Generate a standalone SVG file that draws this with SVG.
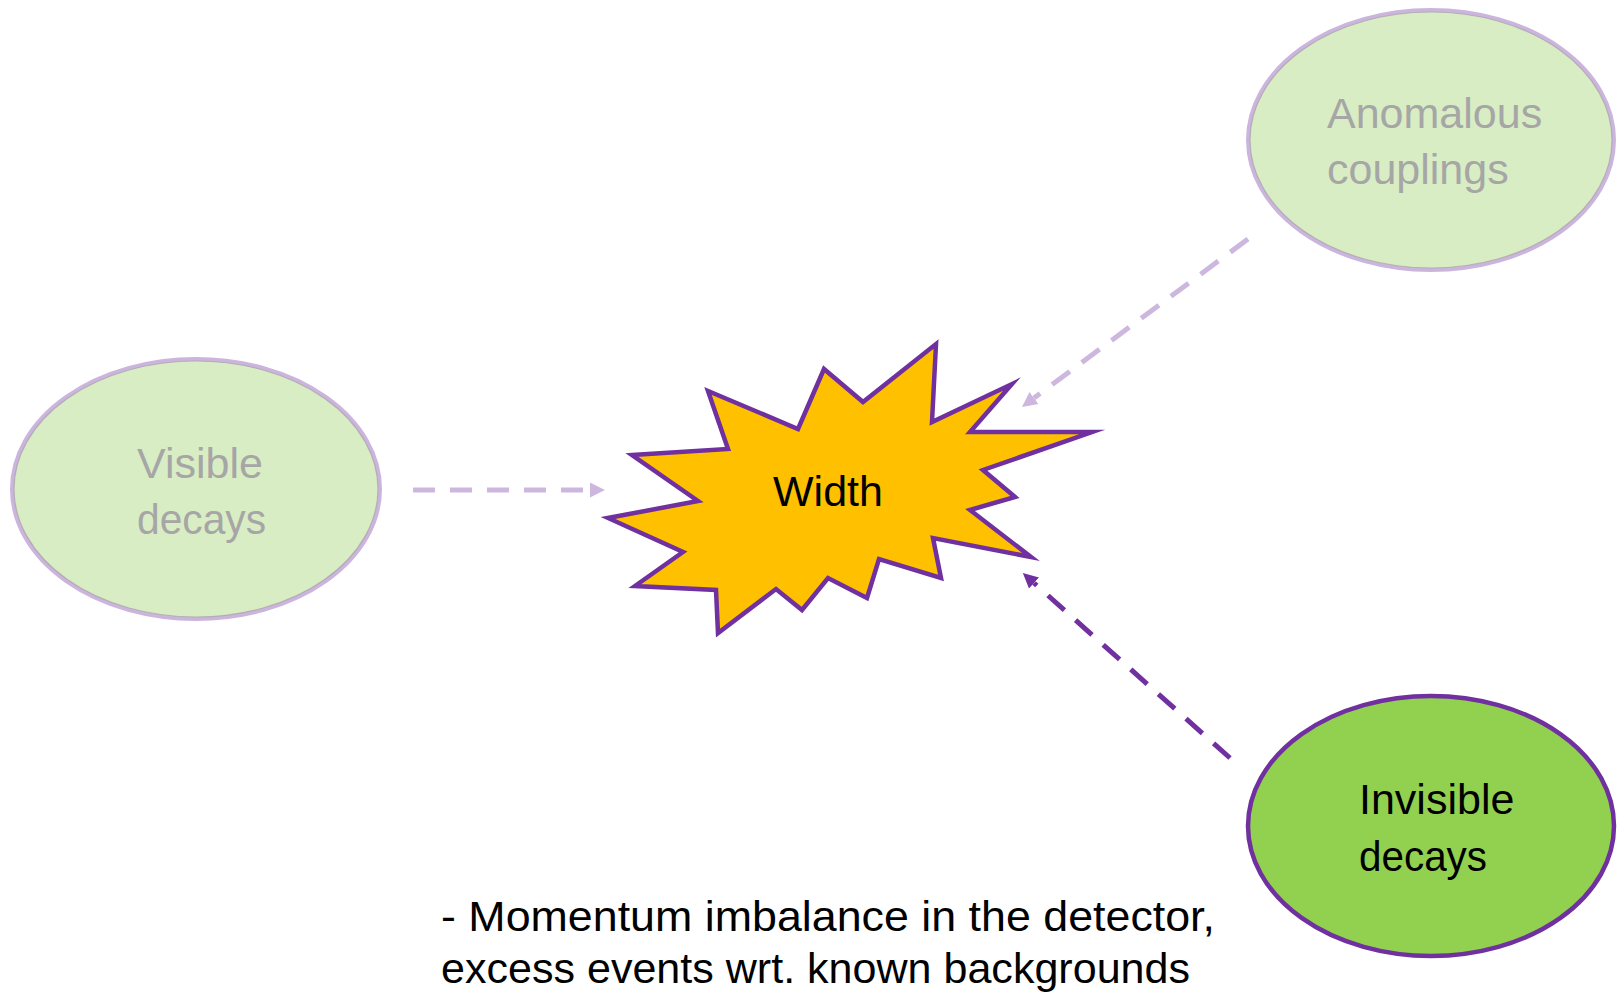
<svg xmlns="http://www.w3.org/2000/svg" width="1617" height="997" viewBox="0 0 1617 997">
  <style>
    .label { font-family: "Liberation Sans", Arial, sans-serif; font-size: 43px; }
    .faded-text { fill: #A6A6A6; }
    .dark-text { fill: #000000; }
    .faded-node { fill: #D8EDC3; stroke: #CBB5DD; stroke-width: 4; }
    .faded-rim { fill: none; stroke: #A8A0AC; stroke-width: 1.2; opacity: 0.7; }
    .active-node { fill: #92D050; stroke: #7030A0; stroke-width: 4.5; }
    .link { fill: none; stroke-width: 5; stroke-dasharray: 22 15; }
    .link-faded { stroke: #CDB7DF; }
    .link-active { stroke: #7030A0; }
  </style>
  <defs>
    <marker id="head-faded" markerUnits="userSpaceOnUse" markerWidth="16" markerHeight="16" refX="0" refY="8" orient="auto">
      <path d="M0,0.5 L15,8 L0,15.5 z" fill="#CDB7DF"/>
    </marker>
    <marker id="head-active" markerUnits="userSpaceOnUse" markerWidth="16" markerHeight="16" refX="0" refY="8" orient="auto">
      <path d="M0,0.5 L15,8 L0,15.5 z" fill="#7030A0"/>
    </marker>
  </defs>

  <rect width="1617" height="997" fill="#FFFFFF"/>

  <!-- connectors -->
  <g id="connectors">
    <line class="link link-faded" x1="413" y1="490" x2="590" y2="490" marker-end="url(#head-faded)"/>
    <line class="link link-faded" x1="1248" y1="239" x2="1034" y2="398" marker-end="url(#head-faded)"/>
    <line class="link link-active" x1="1230" y1="758" x2="1034" y2="583" marker-end="url(#head-active)"/>
  </g>

  <!-- central burst -->
  <g id="width">
    <polygon points="632,455 728,449 708,391 798,429 824,369 863,402 936,344 932,422 1012,384 970,432 1092,432 983,470 1015,497 970,510 1031,557 933,538 941,578 879,559 867,598 828,578 802,610 776,589 718,633 716,590 635,586 683,552 608,518 698,501" fill="#FFC000" stroke="#7030A0" stroke-width="4.5" stroke-linejoin="miter" stroke-miterlimit="20"/>
    <text class="label dark-text" x="828" y="506" text-anchor="middle" font-size="44">Width</text>
  </g>

  <!-- visible decays -->
  <g id="visible-decays">
    <ellipse class="faded-node" cx="196" cy="489" rx="184" ry="130"/>
    <ellipse class="faded-rim" cx="196" cy="489" rx="182" ry="128"/>
    <text class="label faded-text" x="137" y="478">Visible</text>
    <text class="label faded-text" x="137" y="534" textLength="129" lengthAdjust="spacingAndGlyphs">decays</text>
  </g>

  <!-- anomalous couplings -->
  <g id="anomalous-couplings">
    <ellipse class="faded-node" cx="1431" cy="140" rx="183" ry="130"/>
    <ellipse class="faded-rim" cx="1431" cy="140" rx="181" ry="128"/>
    <text class="label faded-text" x="1327" y="128">Anomalous</text>
    <text class="label faded-text" x="1327" y="184">couplings</text>
  </g>

  <!-- invisible decays -->
  <g id="invisible-decays">
    <ellipse class="active-node" cx="1431" cy="826" rx="183" ry="130"/>
    <text class="label dark-text" x="1359" y="814">Invisible</text>
    <text class="label dark-text" x="1359" y="871" textLength="128" lengthAdjust="spacingAndGlyphs">decays</text>
  </g>

  <!-- note -->
  <g id="note">
    <text class="label dark-text" x="441" y="931" font-size="44" textLength="774" lengthAdjust="spacingAndGlyphs">- Momentum imbalance in the detector,</text>
    <text class="label dark-text" x="441" y="983" font-size="44" textLength="749" lengthAdjust="spacingAndGlyphs">excess events wrt. known backgrounds</text>
  </g>
</svg>
